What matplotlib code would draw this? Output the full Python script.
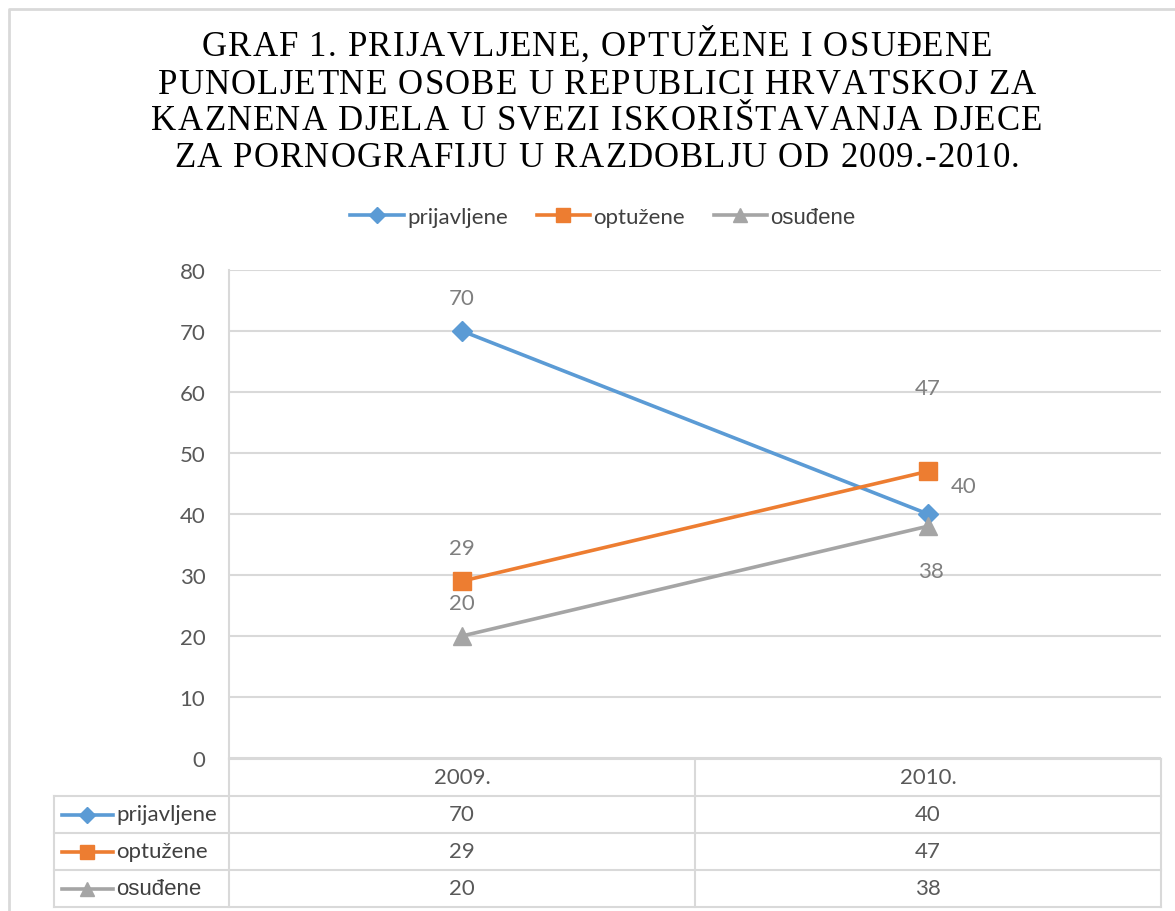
import matplotlib.pyplot as plt
from matplotlib.lines import Line2D

years = ["2009.", "2010."]
series = ["prijavljene", "optužene", "osuđene"]
prijavljene = [70, 40]
optuzene = [29, 47]
osudjene = [20, 38]
values = [prijavljene, optuzene, osudjene]

title_lines = [
    "GRAF 1. PRIJAVLJENE, OPTUŽENE I OSUĐENE",
    "PUNOLJETNE OSOBE U REPUBLICI HRVATSKOJ ZA",
    "KAZNENA DJELA U SVEZI ISKORIŠTAVANJA DJECE",
    "ZA PORNOGRAFIJU U RAZDOBLJU OD 2009.-2010.",
]

colors = ["#5B9BD5", "#ED7D31", "#A5A5A5"]
markers = ["D", "s", "^"]
msizes = [10, 12.5, 12.5]
fonts = ["Lato", "Lato", "Liberation Sans"]
# label offsets (points) for each data label, Excel placed them a bit randomly
offsets = [[(0, 24), (26, 20)], [(0, 24), (0, 60)], [(0, 24), (2, -32)]]
fs = 16

W, H = 1175, 912
fig = plt.figure(figsize=(W / 100, H / 100), dpi=100)
plt.rcParams["font.family"] = ["Lato", "DejaVu Sans"]

# outer chart border
fig.add_artist(Line2D([9 / W, 9 / W, 1.0], [0.0, 1 - 10 / H, 1 - 10 / H],
                      transform=fig.transFigure, color="#d9d9d9", lw=2))

# title with letter spacing (no kerning, like the original)
renderer = fig.canvas.get_renderer()
tkw = dict(family="Liberation Serif", fontsize=25, color="#000000")
spacing = 1.2


def text_w(s):
    t = fig.text(0, 0, s, **tkw)
    w = t.get_window_extent(renderer).width
    t.remove()
    return w


bar_w = text_w("|")
for i, line in enumerate(title_lines):
    adv = [text_w(ch + "|") - bar_w for ch in line]
    total = sum(adv) + (len(line) - 1) * spacing
    xc = 597 - total / 2
    yc = 48 + i * 37
    for ch, a in zip(line, adv):
        if ch != " ":
            fig.text(xc / W, 1 - yc / H, ch, ha="left", va="center", **tkw)
        xc += a + spacing

# main plot area
ax = fig.add_axes([229 / W, 1 - 759 / H, (1161 - 229) / W, (759 - 271) / H])
x = range(len(years))
for vals, name, c, m, ms, offs in zip(values, series, colors, markers, msizes, offsets):
    ax.plot(x, vals, color=c, lw=2.6, marker=m, ms=ms, solid_capstyle="round", zorder=3)
    for xi, v, off in zip(x, vals, offs):
        ax.annotate(str(v), (xi, v), xytext=off, textcoords="offset points",
                    ha="center", va="center", fontsize=fs, color="#7f7f7f")

ax.set_xlim(-0.5, 1.5)
ax.set_ylim(0, 80)
ax.set_yticks(range(0, 81, 10))
ax.yaxis.grid(True, color="#d9d9d9", lw=1.5)
ax.set_axisbelow(True)
ax.set_xticks([])
ax.tick_params(axis="y", length=0, pad=17, labelsize=fs, labelcolor="#595959")
for s in ["top", "right", "bottom"]:
    ax.spines[s].set_visible(False)
ax.spines["left"].set_color("#d9d9d9")
ax.spines["left"].set_linewidth(1.5)

# legend on top
handles = [Line2D([], [], color=c, lw=2.6, marker=m, ms=ms * 0.85)
           for c, m, ms in zip(colors, markers, msizes)]
leg = fig.legend(handles, series, loc="center", bbox_to_anchor=(603 / W, 1 - 218 / H),
                 ncol=3, frameon=False, fontsize=fs, handlelength=2.4,
                 handletextpad=0.15, columnspacing=1.3, labelcolor="#404040")
for txt, f in zip(leg.get_texts(), fonts):
    txt.set_family(f)

# data table under the plot
x_left = -0.5 - (229 - 54) / 466
tax = fig.add_axes([54 / W, 1 - 908 / H, (1161 - 54) / W, (908 - 760) / H])
tax.set_xlim(x_left, 1.5)
tax.set_ylim(4, 0)
tax.axis("off")
gc = dict(color="#d9d9d9", lw=1.5, clip_on=False)
tax.plot([-0.5, 1.5], [0, 0], **gc)
for r in [1, 2, 3, 4]:
    tax.plot([x_left, 1.5], [r, r], **gc)
tax.plot([x_left, x_left], [1, 4], **gc)
for xv in [-0.5, 0.5, 1.5]:
    tax.plot([xv, xv], [0, 4], **gc)
for j, yr in enumerate(years):
    tax.text(j, 0.5, yr, ha="center", va="center", fontsize=fs, color="#595959")
for i, (vals, name, c, m, ms, f) in enumerate(zip(values, series, colors, markers, msizes, fonts)):
    yr_ = i + 1.5
    lx0 = -0.5 + (62 - 229) / 466
    lx1 = -0.5 + (113 - 229) / 466
    tax.plot([lx0, lx1], [yr_, yr_], color=c, lw=2.6, clip_on=False)
    tax.plot([(lx0 + lx1) / 2], [yr_], color=c, marker=m, ms=ms * 0.85, clip_on=False)
    tax.text(-0.5 + (116 - 229) / 466, yr_, name, ha="left", va="center",
             fontsize=fs, color="#404040", family=f)
    for j, v in enumerate(vals):
        tax.text(j, yr_, str(v), ha="center", va="center", fontsize=fs, color="#595959")

fig.savefig("out.png", dpi=100)
